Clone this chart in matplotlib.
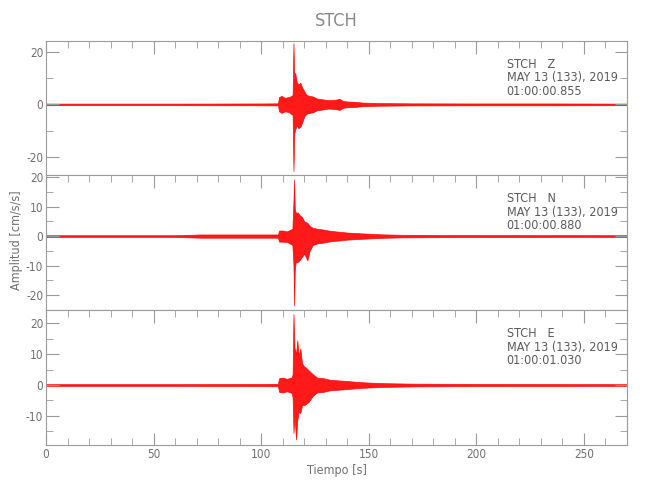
import matplotlib.pyplot as plt
from matplotlib.ticker import MultipleLocator

plt.rcParams['font.family'] = ['DejaVu Sans']
plt.rcParams['font.stretch'] = 'condensed'
plt.rcParams['font.weight'] = 'light'
plt.rcParams['axes.unicode_minus'] = False

station = 'STCH'
components = ['Z', 'N', 'E']
date_label = 'MAY 13 (133), 2019'
start_times = ['01:00:00.855', '01:00:00.880', '01:00:01.030']

# envolvente de cada traza: tiempo [s], maximo y minimo [cm/s/s]
z_t = [0, 60, 100, 107.8, 108.3, 109.5, 111, 113, 114.6, 115.0, 115.4, 115.8, 116.5,
       117.3, 118.2, 119.0, 120.0, 121.0, 122.5, 124, 126, 128, 131, 134, 136.5, 138,
       140, 143, 147, 155, 170, 200, 240, 270]
z_up = [0.3, 0.3, 0.35, 0.4, 2.8, 3.2, 2.5, 2.8, 3.5, 23.2, 9.5, 12, 8.5, 7.5, 8.2,
        6.5, 5.0, 3.6, 3.2, 3.0, 2.2, 2.0, 1.6, 1.7, 2.1, 1.3, 1.1, 1.0, 0.7, 0.5,
        0.4, 0.35, 0.35, 0.3]
z_lo = [-0.3, -0.3, -0.35, -0.4, -2.6, -3.2, -2.6, -3.0, -4.0, -25.3, -11, -9.5, -8.0,
        -9.0, -8.5, -7.0, -4.5, -3.6, -3.2, -3.0, -2.2, -2.0, -1.6, -1.7, -2.1, -1.3,
        -1.1, -1.0, -0.7, -0.5, -0.4, -0.35, -0.35, -0.3]

n_t = [0, 60, 72, 100, 107.8, 108.3, 110, 112, 114.5, 115.0, 115.3, 115.6, 116.0, 117,
       118, 119, 120, 121.5, 122.5, 124, 126, 129, 132, 136, 140, 145, 150, 156, 165,
       190, 270]
n_up = [0.3, 0.3, 0.55, 0.55, 0.55, 1.9, 1.9, 1.6, 2.5, 12.1, 19.3, 9.5, 8, 8, 7, 6.5,
        5, 4.5, 3.5, 2.8, 2.5, 2.2, 1.8, 1.5, 1.2, 1.0, 0.8, 0.6, 0.45, 0.35, 0.3]
n_lo = [-0.3, -0.3, -0.55, -0.55, -0.55, -1.9, -1.9, -2.0, -3.0, -10, -23.5, -12, -9,
        -8.8, -8, -7, -6, -8.2, -5, -3, -2.5, -2.2, -1.8, -1.5, -1.2, -1.0, -0.8, -0.6,
        -0.45, -0.35, -0.3]

e_t = [0, 60, 100, 107.8, 108.3, 110, 112, 114.2, 114.6, 115.0, 115.5, 116.2, 116.8,
       117.4, 118.2, 119, 120, 121, 122, 124, 126, 129, 132, 136, 140, 145, 150, 158,
       170, 200, 270]
e_up = [0.3, 0.3, 0.35, 0.4, 2.2, 2.4, 2.0, 2.5, 3.5, 23.0, 12, 10, 14.5, 9.5, 11.8, 7,
        6, 5.5, 4.8, 3.5, 2.4, 2.2, 1.7, 1.5, 1.3, 1.0, 0.8, 0.6, 0.45, 0.35, 0.3]
e_lo = [-0.3, -0.3, -0.35, -0.4, -2.2, -2.4, -2.0, -2.6, -4, -15.5, -10, -17.6, -11.3,
        -8.6, -9.1, -6.4, -6.5, -6, -5.5, -3.5, -2.4, -2.2, -1.7, -1.5, -1.3, -1.0,
        -0.8, -0.6, -0.45, -0.35, -0.3]

traces = [(z_t, z_up, z_lo), (n_t, n_up, n_lo), (e_t, e_up, e_lo)]
ylims = [(-26.9, 24.1), (-25.2, 20.6), (-19.4, 24.2)]
ysteps = [(20, 10), (10, 5), (10, 5)]

gris = '#9a9a9a'
texto = '#707070'

fig, axes = plt.subplots(3, 1, figsize=(6.5, 5), dpi=100, sharex=True)
fig.subplots_adjust(left=0.0708, right=0.9646, top=0.9186, bottom=0.11, hspace=0)

for i, ax in enumerate(axes):
    t, up, lo = traces[i]
    ax.fill_between(t, lo, up, color='red', alpha=0.9, linewidth=0.5, edgecolor='red')
    ax.set_xlim(0, 270)
    ax.set_ylim(*ylims[i])
    ax.xaxis.set_major_locator(MultipleLocator(50))
    ax.xaxis.set_minor_locator(MultipleLocator(10))
    ax.yaxis.set_major_locator(MultipleLocator(ysteps[i][0]))
    ax.yaxis.set_minor_locator(MultipleLocator(ysteps[i][1]))
    ax.tick_params(which='both', direction='in', top=True, right=True,
                   bottom=(i == 2), colors=gris, labelcolor=texto, labelsize=8.5, pad=2)
    ax.tick_params(which='major', length=9)
    ax.tick_params(which='minor', length=5)
    for s in ax.spines.values():
        s.set_color(gris)
    # rotulo de la estacion
    lineas = [f'{station}   {components[i]}', date_label, start_times[i]]
    for k, linea in enumerate(lineas):
        ax.text(0.793, 0.80 - k * 0.10, linea, transform=ax.transAxes,
                fontsize=9, color='#5a5a5a', va='baseline', ha='left')

axes[2].set_xlabel('Tiempo [s]', fontsize=9, color=texto, labelpad=2)
fig.text(0.026, 0.52, 'Amplitud [cm/s/s]', rotation=90, fontsize=9, color=texto,
         ha='center', va='center')
fig.text(0.518, 0.958, station, fontsize=13, color='#888888', ha='center', va='center')

plt.savefig('out.png')
